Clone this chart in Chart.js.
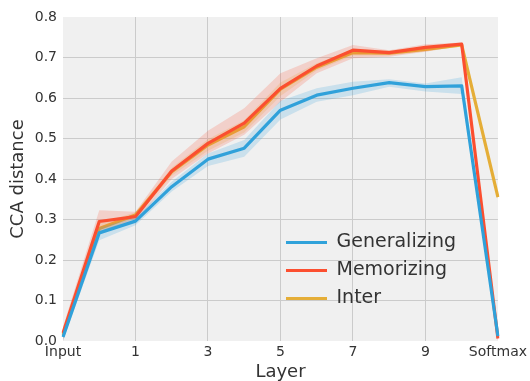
<!DOCTYPE html>
<html>
<head>
<meta charset="utf-8">
<script src="https://cdn.jsdelivr.net/npm/chart.js@4"></script>
<style>
html,body{margin:0;padding:0;background:#fff;}
canvas{display:block;}
</style>
</head>
<body>
<canvas id="c" width="530" height="381"></canvas>
<script>
const layers = ['Input','0','1','2','3','4','5','6','7','8','9','10','Softmax'];
const yTicks = [0,0.1,0.2,0.3,0.4,0.5,0.6,0.7,0.8];

const genMean  = [0.010,0.267,0.296,0.381,0.449,0.476,0.570,0.607,0.624,0.638,0.628,0.630,0.012];
const genLow   = [0.000,0.249,0.286,0.369,0.432,0.455,0.547,0.591,0.607,0.628,0.616,0.610,0.002];
const genHigh  = [0.020,0.280,0.305,0.393,0.463,0.496,0.593,0.624,0.640,0.646,0.636,0.651,0.022];

const memMean  = [0.020,0.295,0.307,0.420,0.488,0.538,0.624,0.679,0.718,0.712,0.725,0.733,0.006];
const memLow   = [0.000,0.270,0.295,0.400,0.463,0.509,0.591,0.661,0.698,0.702,0.714,0.729,0.000];
const memHigh  = [0.035,0.323,0.319,0.443,0.519,0.575,0.661,0.698,0.731,0.718,0.733,0.737,0.012];

const interMean = [0.015,0.278,0.311,0.418,0.484,0.529,0.622,0.676,0.712,0.711,0.720,0.731,0.355];
const interLow  = [0.005,0.268,0.303,0.408,0.470,0.515,0.605,0.668,0.705,0.705,0.715,0.727,0.350];
const interHigh = [0.025,0.290,0.318,0.428,0.498,0.545,0.638,0.686,0.720,0.717,0.726,0.735,0.360];

const seriesNames = ['Generalizing','Memorizing','Inter'];
const colors = ['#30a2da','#fc4f30','#e5ae38'];
const bandColors = ['rgba(48,162,218,0.2)','rgba(252,79,48,0.2)','rgba(229,174,56,0.2)'];

const means = [genMean, memMean, interMean];
const lows = [genLow, memLow, interLow];
const highs = [genHigh, memHigh, interHigh];

const datasets = [];
for (let s = 0; s < 3; s++) {
  datasets.push({label:'', data: lows[s], borderWidth:0, pointRadius:0, fill:false, backgroundColor:'transparent', borderColor:'transparent', tension:0});
  datasets.push({label:'', data: highs[s], borderWidth:0, pointRadius:0, fill:'-1', backgroundColor:bandColors[s], borderColor:'transparent', tension:0});
  datasets.push({label: seriesNames[s], data: means[s], borderWidth:3.2, pointRadius:0, fill:false, borderColor:colors[s], backgroundColor:colors[s], tension:0, borderJoinStyle:'round', borderCapStyle:'butt'});
}

const bgPlugin = {
  id:'bg',
  beforeDraw(chart){
    const {ctx, chartArea:a} = chart;
    ctx.save();
    ctx.fillStyle = '#ffffff';
    ctx.fillRect(0,0,chart.width,chart.height);
    ctx.fillStyle = '#f0f0f0';
    ctx.fillRect(a.left, a.top, a.right-a.left, a.bottom-a.top);
    ctx.restore();
  }
};
const legendPos = {
  id:'legendPos',
  afterLayout(chart){
    const lg = chart.legend;
    if (!lg) return;
    const w = lg.width, h = lg.height;
    lg.left = 277; lg.top = 224;
    lg.right = lg.left + w; lg.bottom = lg.top + h;
  }
};

const txt = '#333333';
new Chart(document.getElementById('c'), {
  type:'line',
  data:{labels: layers, datasets},
  options:{
    responsive:false,
    animation:false,
    devicePixelRatio:1,
    layout:{padding:{left:0, top:17, right:32, bottom:0}},
    plugins:{
      legend:{
        position:'chartArea',
        align:'start',
        labels:{
          filter:(item)=> item.text !== '',
          generateLabels:(chart)=> Chart.defaults.plugins.legend.labels.generateLabels(chart).map(l=>Object.assign(l,{lineWidth:0})),
          boxWidth:41, boxHeight:3, padding:9,
          color:txt,
          font:{family:'DejaVu Sans', size:19}
        }
      },
      tooltip:{enabled:false}
    },
    scales:{
      x:{
        type:'category',
        offset:false,
        border:{display:false},
        grid:{drawTicks:false, lineWidth:1, color:(ctx)=> (ctx.index%2===1 || ctx.index===0 || ctx.index===layers.length-1) ? 'rgba(0,0,0,0)' : '#cbcbcb'},
        ticks:{autoSkip:false, maxRotation:0, minRotation:0, padding:3, color:txt, font:{family:'DejaVu Sans', size:14},
          callback:(v,i)=> i%2===0 ? layers[i] : ''},
        title:{display:true, text:'Layer', color:txt, font:{family:'DejaVu Sans', size:18, lineHeight:1}, padding:{top:0,bottom:0}},
        afterFit:(s)=>{ s.height = 40; }
      },
      y:{
        min:0, max:0.8,
        border:{display:false},
        grid:{drawTicks:false, lineWidth:1, color:(ctx)=> (ctx.index===0 || ctx.index===yTicks.length-1) ? 'rgba(0,0,0,0)' : '#cbcbcb'},
        afterBuildTicks:(s)=>{ s.ticks = yTicks.map(v=>({value:v})); },
        ticks:{padding:6, color:txt, font:{family:'DejaVu Sans', size:14}, callback:(v)=> Number(v).toFixed(1)},
        title:{display:true, text:'CCA distance', color:txt, font:{family:'DejaVu Sans', size:18}, padding:{top:8,bottom:0}},
        afterFit:(s)=>{ s.width = 63; }
      }
    }
  },
  plugins:[bgPlugin, legendPos]
});
</script>
</body>
</html>
